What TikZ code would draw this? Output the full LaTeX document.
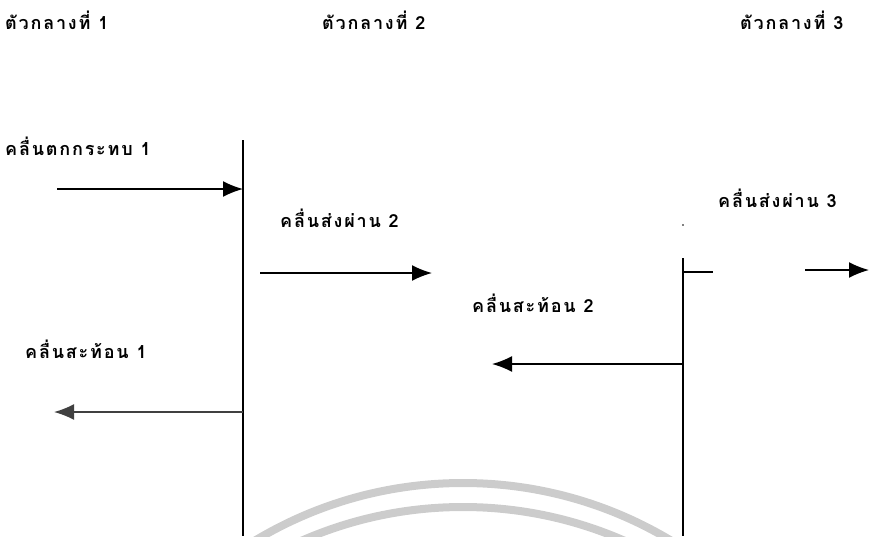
\documentclass[tikz,border=0pt]{standalone}
\usepackage{fontspec}
\newfontfamily\thaifont[Script=Thai,LetterSpace=10]{Loma}
\usetikzlibrary{arrows.meta}
\begin{document}
\begin{tikzpicture}[x=1pt,y=-1pt,
  lbl/.style={anchor=west,inner sep=0pt,font=\thaifont\bfseries\fontsize{18}{20}\selectfont},
  wave/.style={line width=1.6pt,-{Latex[length=20pt,width=16pt]}},
  iface/.style={line width=1.3pt},
  wm/.style={line width=8pt,draw=black!20}]
\useasboundingbox (0,0) rectangle (869,536);
\begin{scope}
\clip (0,0) rectangle (869,536);
\draw[wm] (463,887) circle[radius=404];
\draw[wm] (463,909) circle[radius=402];
\end{scope}
% headers
\node[lbl] (m1) at (5,20) {ตัวกลางที่ 1};
\node[lbl] (m2) at (322,20) {ตัวกลางที่ 2};
\node[lbl] (m3) at (740,20) {ตัวกลางที่ 3};
% interfaces
\coordinate (a1) at (243,140);
\coordinate (a2) at (243,536);
\coordinate (b1) at (683,258);
\coordinate (b2) at (683,536);
\draw[iface] (a1) -- (a2);
\draw[iface] (b1) -- (b2);
\fill (683,225) circle[radius=0.8];
% incident
\node[lbl] (linc) at (5,146) {คลื่นตกกระทบ 1};
\coordinate (i1) at (57,189);
\coordinate (i2) at (243,189);
\draw[wave] (i1) -- (i2);
% transmitted in medium 2
\node[lbl] (lt2) at (280,218) {คลื่นส่งผ่าน 2};
\coordinate (t1) at (260,273);
\coordinate (t2) at (432,273);
\draw[wave] (t1) -- (t2);
% transmitted in medium 3
\node[lbl] (lt3) at (718,198) {คลื่นส่งผ่าน 3};
\coordinate (r1) at (683,272);
\coordinate (r2) at (713,272);
\coordinate (r3) at (805,270);
\coordinate (r4) at (869,270);
\draw[iface] (r1) -- (r2);
\draw[wave] (r3) -- (r4);
% reflected in medium 2
\node[lbl] (lr2) at (472,303) {คลื่นสะท้อน 2};
\coordinate (s1) at (683,364);
\coordinate (s2) at (492,364);
\draw[wave] (s1) -- (s2);
% reflected in medium 1
\node[lbl] (lr1) at (25,349) {คลื่นสะท้อน 1};
\coordinate (u1) at (243,412);
\coordinate (u2) at (54,412);
\draw[wave,draw=black!75,fill=black!75] (u1) -- (u2);
\end{tikzpicture}
\end{document}
